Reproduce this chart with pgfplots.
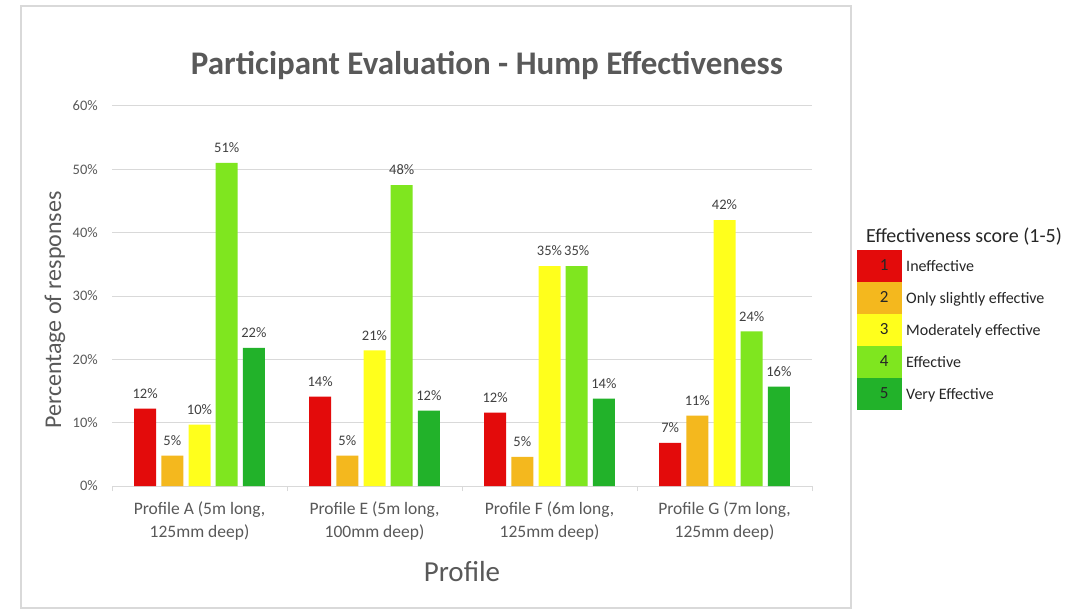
\documentclass[border=0pt]{standalone}
\usepackage{pgfplots}
\pgfplotsset{compat=1.18}
\usepackage{fontspec}
\setmainfont{Carlito}
\definecolor{cred}{HTML}{E30B0B}
\definecolor{corange}{HTML}{F4B81E}
\definecolor{cyellow}{HTML}{FFFF1C}
\definecolor{clgreen}{HTML}{7FE61F}
\definecolor{cdgreen}{HTML}{22B22A}
\definecolor{txt}{HTML}{595959}
\definecolor{gridc}{HTML}{D9D9D9}
\pgfplotsset{legnum/.style={legend image code/.code={%
  \fill[##1,draw=none] (0pt,-16pt) rectangle (45pt,16pt);
  \node[text=black!85,font=\fontsize{17}{17}\selectfont] at (22.5pt,0pt) {#1};}}}
\begin{document}
\begin{tikzpicture}
\path[use as bounding box, fill=white] (0pt,0pt) rectangle (1092pt,611pt);
\draw[gridc, line width=1.5pt] (21pt,3pt) rectangle (851pt,605pt);
\node[text=txt, font=\fontsize{33}{33}\selectfont\bfseries] at (487pt,546pt) {Participant Evaluation - Hump Effectiveness};
\node[text=black!85, font=\fontsize{20}{20}\selectfont] at (964pt,374pt) {Effectiveness score (1-5)};
\begin{axis}[
  at={(112pt,125pt)}, anchor=south west,
  scale only axis, width=700pt, height=380pt,
  ybar=5.2pt, bar width=22pt,
  xmin=-0.5, xmax=3.5, ymin=0, ymax=60,
  xtick={0,1,2,3},
  xticklabels={{Profile A (5m long,\\125mm deep)},{Profile E (5m long,\\100mm deep)},{Profile F (6m long,\\125mm deep)},{Profile G (7m long,\\125mm deep)}},
  xticklabel style={align=center, text=txt, font=\fontsize{17.5}{23}\selectfont, inner sep=0pt, yshift=-16pt},
  minor xtick={-0.5,0.5,1.5,2.5,3.5},
  minor tick length=5pt, tick align=outside,
  major tick length=0pt,
  ytick={0,10,20,30,40,50,60},
  yticklabel={\pgfmathprintnumber{\tick}\%},
  /pgf/number format/assume math mode=true,
  yticklabel style={text=txt, font=\fontsize{14.5}{14.5}\selectfont, inner sep=0pt, anchor=east, xshift=-14pt},
  ymajorgrids, grid style={gridc, line width=1pt},
  minor tick style={gridc, line width=1pt},
  axis x line*=bottom, axis y line*=left,
  x axis line style={gridc, line width=1pt, -},
  y axis line style={draw=none},
  ytick style={draw=none},
  xlabel={Profile},
  xlabel style={at={(axis description cs:0.5,-0.226)}, anchor=center, text=txt, font=\fontsize{29}{29}\selectfont},
  ylabel={Percentage of responses},
  ylabel style={at={(axis description cs:-0.0814,0.463)}, anchor=center, rotate=0, text=txt, font=\fontsize{24}{24}\selectfont},
  nodes near coords={\pgfmathprintnumber[fixed,precision=0]{\pgfplotspointmeta}\%},
  every node near coord/.append style={text=black!75, font=\fontsize{14.5}{14.5}\selectfont, inner sep=0pt, anchor=south, yshift=10pt},
  legend style={at={(1.0643,0.621)}, anchor=north west, draw=none, fill=none, inner sep=0pt, row sep=0pt, column sep=4pt,
    nodes={inner sep=0pt, text=black!85, font=\fontsize{16}{16}\selectfont}},
  legend cell align=left,
]
\addplot[fill=cred, draw=none, legnum=1] coordinates {(0,12.2) (1,14.1) (2,11.6) (3,6.8)};
\addplot[fill=corange, draw=none, legnum=2] coordinates {(0,4.8) (1,4.8) (2,4.6) (3,11.1)};
\addplot[fill=cyellow, draw=none, legnum=3] coordinates {(0,9.7) (1,21.4) (2,34.7) (3,42.0)};
\addplot[fill=clgreen, draw=none, legnum=4] coordinates {(0,51.0) (1,47.5) (2,34.7) (3,24.4)};
\addplot[fill=cdgreen, draw=none, legnum=5] coordinates {(0,21.8) (1,11.9) (2,13.8) (3,15.7)};
\legend{Ineffective, Only slightly effective, Moderately effective, Effective, Very Effective}
\end{axis}
\end{tikzpicture}
\end{document}
